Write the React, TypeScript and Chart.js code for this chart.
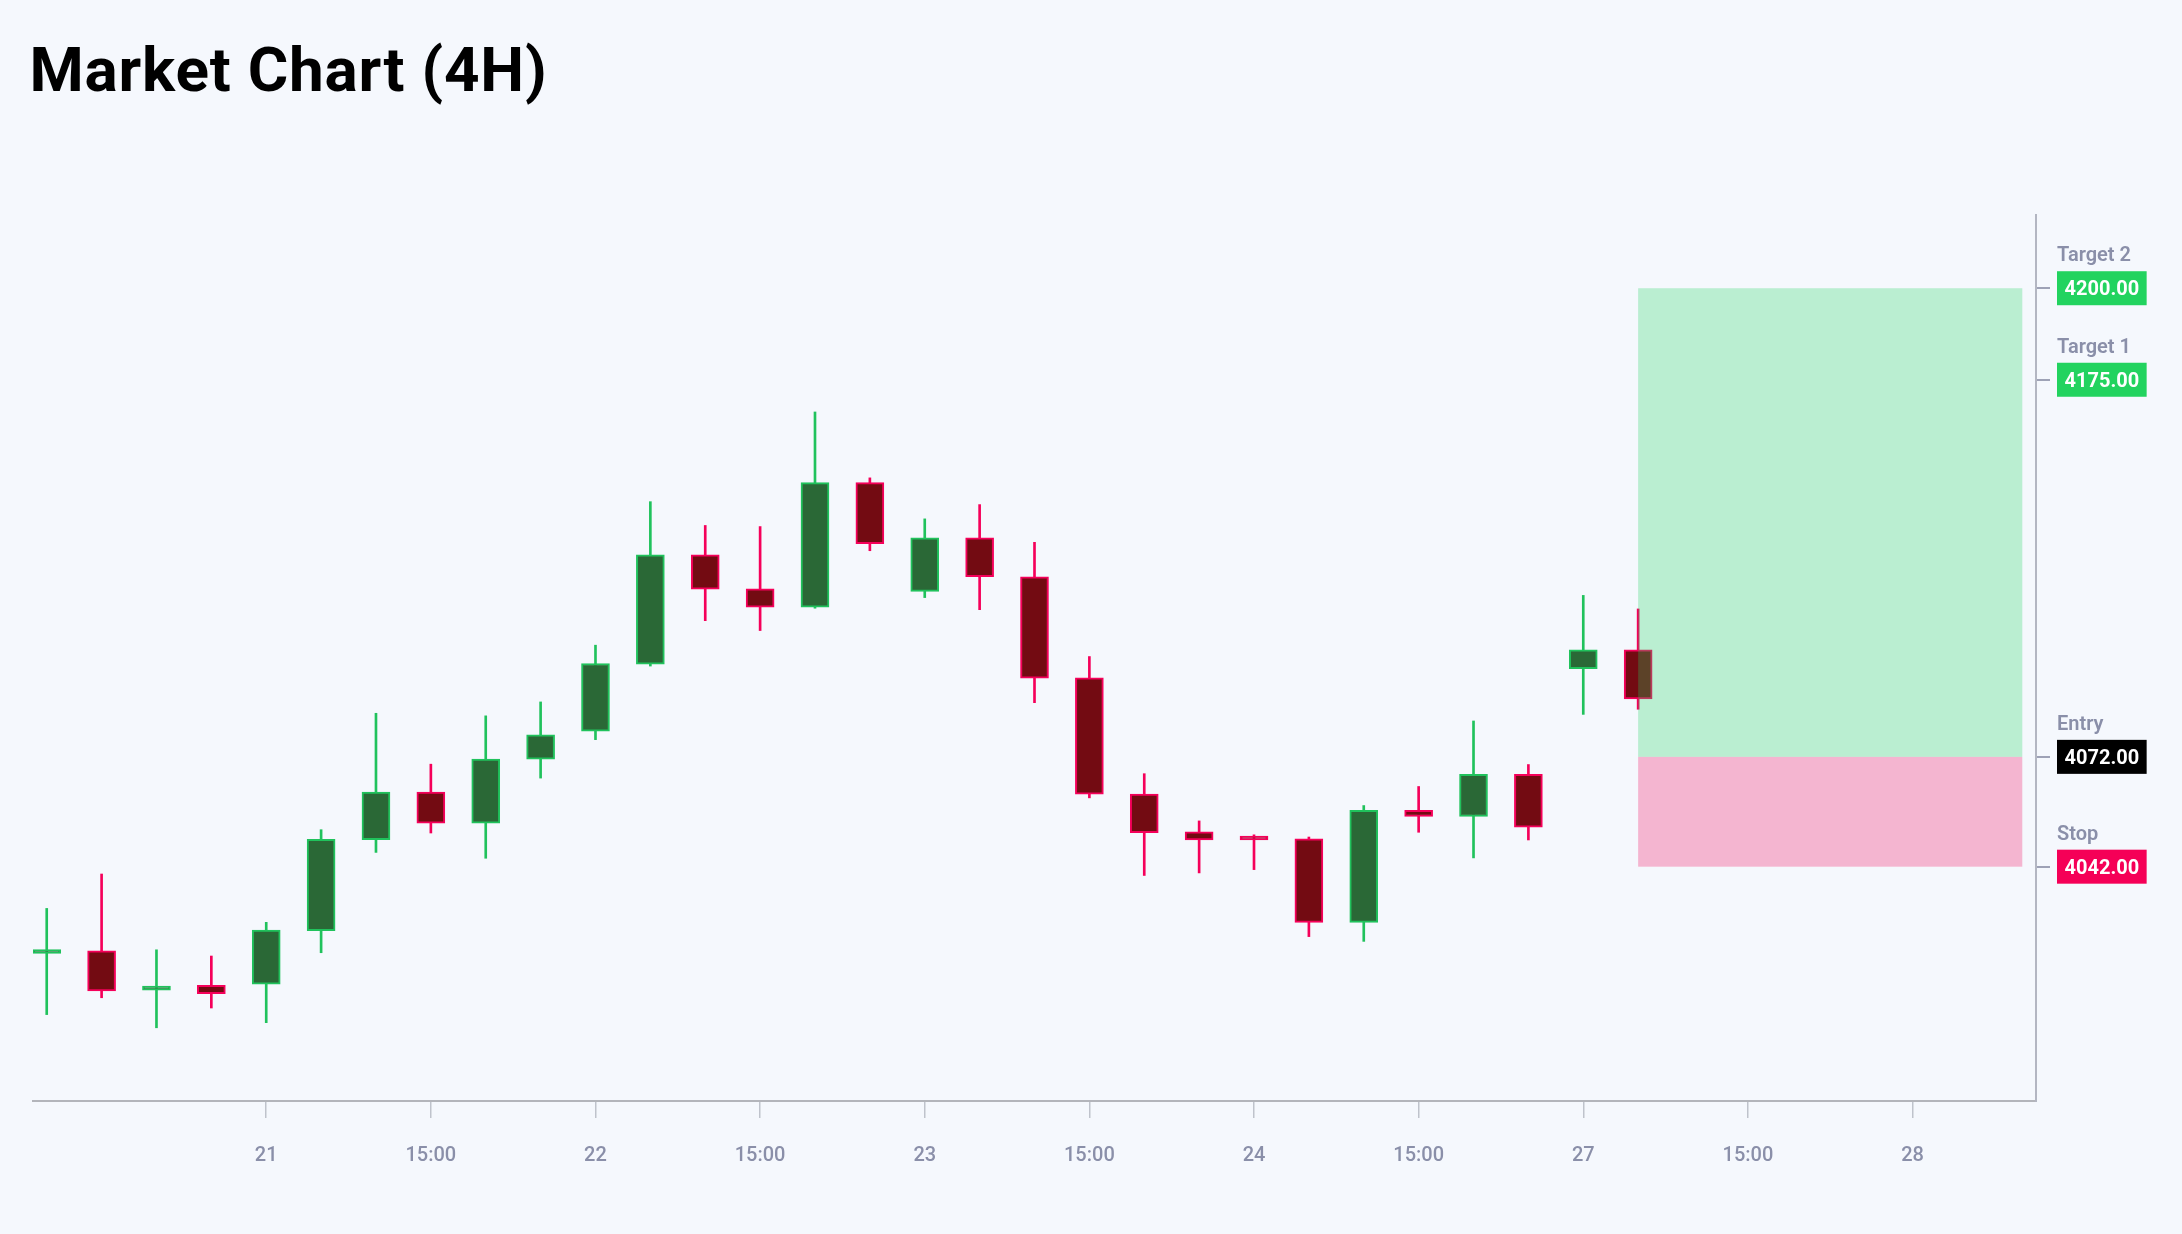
import React, { useEffect, useRef } from 'react';
import { Chart, registerables } from 'chart.js';

Chart.register(...registerables);

const TITLE = 'Market Chart (4H)';

const OPEN = [4018.3, 4019.0, 4008.3, 4009.6, 4009.9, 4024.5, 4049.4, 4062.4, 4053.9, 4071.4,
  4079.0, 4097.3, 4127.2, 4117.9, 4112.9, 4146.9, 4117.2, 4131.8, 4121.2, 4093.6,
  4061.8, 4051.5, 4050.1, 4049.6, 4026.8, 4057.4, 4055.7, 4067.2, 4096.1, 4101.2];
const HIGH = [4030.6, 4040.0, 4019.3, 4017.6, 4026.8, 4052.1, 4083.9, 4070.0, 4083.2, 4087.0,
  4102.5, 4141.7, 4135.2, 4134.9, 4166.2, 4148.2, 4137.0, 4140.9, 4130.6, 4099.4,
  4067.4, 4054.5, 4050.7, 4050.1, 4058.7, 4063.9, 4081.8, 4069.9, 4116.1, 4112.4];
const LOW = [4001.6, 4006.2, 3998.0, 4003.4, 3999.4, 4018.5, 4045.9, 4051.2, 4044.3, 4066.2,
  4076.7, 4096.8, 4109.2, 4106.5, 4112.6, 4128.3, 4115.5, 4112.2, 4086.8, 4060.8,
  4039.6, 4040.3, 4041.2, 4022.9, 4021.6, 4051.4, 4044.4, 4049.3, 4083.6, 4085.0];
const CLOSE = [4019.2, 4008.1, 4009.4, 4007.3, 4024.7, 4049.5, 4062.4, 4053.9, 4071.4, 4078.0,
  4097.5, 4127.2, 4117.8, 4112.9, 4146.9, 4130.2, 4131.8, 4121.2, 4093.5, 4061.8,
  4051.3, 4049.3, 4049.3, 4026.8, 4057.4, 4055.7, 4067.2, 4052.8, 4101.2, 4087.8];

const TICK_POSITIONS = [4, 7, 10, 13, 16, 19, 22, 25, 28, 31, 34];
const TICK_LABELS = ['21', '15:00', '22', '15:00', '23', '15:00', '24', '15:00', '27', '15:00', '28'];

const LEVEL_NAMES = ['Target 2', 'Target 1', 'Entry', 'Stop'];
const LEVEL_VALUES = [4200, 4175, 4072, 4042];
const LEVEL_COLORS = ['#22d35f', '#22d35f', '#000000', '#f50057'];

const ZONE_START = 29;
const ZONE_END = 36;
const TARGET_ZONE = [4072, 4200];
const STOP_ZONE = [4042, 4072];

const X_MIN = -0.25;
const X_MAX = 36.25;
const Y_MIN = 3978;
const Y_MAX = 4220;

const UP_FILL = '#2a6836';
const UP_LINE = '#20c25c';
const DOWN_FILL = '#730b12';
const DOWN_LINE = '#f5005a';
const BG = '#f5f8fd';

const isUp = (i: number) => CLOSE[i] >= OPEN[i];

const overlayPlugin = {
  id: 'overlay',
  afterDatasetsDraw(chart: any) {
    const { ctx, chartArea, scales } = chart;
    const x = scales.x;
    const y = scales.y;
    ctx.save();
    ctx.beginPath();
    ctx.rect(chartArea.left, chartArea.top, chartArea.right - chartArea.left, chartArea.bottom - chartArea.top);
    ctx.clip();
    const x0 = x.getPixelForValue(ZONE_START);
    const x1 = x.getPixelForValue(ZONE_END);
    const tTop = y.getPixelForValue(TARGET_ZONE[1]);
    const tBot = y.getPixelForValue(TARGET_ZONE[0]);
    ctx.fillStyle = 'rgba(34, 211, 96, 0.28)';
    ctx.fillRect(x0, tTop, x1 - x0, tBot - tTop);
    const sTop = y.getPixelForValue(STOP_ZONE[1]);
    const sBot = y.getPixelForValue(STOP_ZONE[0]);
    ctx.fillStyle = 'rgba(245, 0, 87, 0.27)';
    ctx.fillRect(x0, sTop, x1 - x0, sBot - sTop);
    ctx.restore();
  },
  afterDraw(chart: any) {
    const { ctx, scales } = chart;
    const y = scales.y;
    ctx.save();
    // title
    ctx.fillStyle = '#000000';
    ctx.font = 'bold 62px Roboto';
    ctx.textBaseline = 'alphabetic';
    ctx.textAlign = 'left';
    try { (ctx as any).letterSpacing = '0.8px'; } catch (e) { /* ignore */ }
    ctx.fillText(TITLE, 29.5, 91);
    try { (ctx as any).letterSpacing = '0px'; } catch (e) { /* ignore */ }
    // level labels
    const bx = y.left + 21;
    LEVEL_VALUES.forEach((v, i) => {
      const py = y.getPixelForValue(v);
      ctx.font = '600 20px Roboto';
      ctx.fillStyle = '#8a8fa9';
      ctx.textBaseline = 'alphabetic';
      ctx.fillText(LEVEL_NAMES[i], bx, py - 27);
      const txt = v.toFixed(2);
      ctx.font = 'bold 20px Roboto';
      const w = ctx.measureText(txt).width;
      ctx.fillStyle = LEVEL_COLORS[i];
      ctx.fillRect(bx, py - 17, w + 15, 34);
      ctx.fillStyle = '#ffffff';
      ctx.textBaseline = 'middle';
      ctx.fillText(txt, bx + 7.5, py + 2);
    });
    ctx.restore();
  },
};

export default function App() {
  const ref = useRef<HTMLCanvasElement | null>(null);

  useEffect(() => {
    if (!ref.current) return;
    Chart.defaults.font.family = 'Roboto';
    const chart = new Chart(ref.current, {
      type: 'bar',
      data: {
        datasets: [
          {
            label: 'body',
            data: OPEN.map((o, i) => ({ x: i, y: [o, CLOSE[i]] })) as any,
            backgroundColor: OPEN.map((_, i) => (isUp(i) ? UP_FILL : DOWN_FILL)),
            borderColor: OPEN.map((_, i) => (isUp(i) ? UP_LINE : DOWN_LINE)),
            borderWidth: 2,
            borderSkipped: false,
            barThickness: 28,
            minBarLength: 4,
            grouped: false,
            order: 0,
          } as any,
          {
            label: 'wick',
            data: LOW.map((l, i) => ({ x: i, y: [l, HIGH[i]] })) as any,
            backgroundColor: OPEN.map((_, i) => (isUp(i) ? UP_LINE : DOWN_LINE)),
            borderWidth: 0,
            barThickness: 2,
            grouped: false,
            order: 1,
          } as any,
        ],
      },
      options: {
        animation: false,
        responsive: true,
        maintainAspectRatio: false,
        layout: { padding: { left: 33, top: 215, right: 0, bottom: 0 } },
        plugins: {
          legend: { display: false },
          tooltip: { enabled: false },
          title: { display: false },
        },
        scales: {
          x: {
            type: 'linear',
            position: 'bottom',
            min: X_MIN,
            max: X_MAX,
            offset: false,
            grid: {
              drawOnChartArea: false,
              drawTicks: true,
              tickLength: 17,
              color: '#bfc3cc',
              lineWidth: 1.5,
              offset: false,
            },
            border: { display: true, color: '#b3b5bb', width: 2 },
            ticks: {
              autoSkip: false,
              maxRotation: 0,
              padding: 26,
              color: '#8a8fa9',
              font: { family: 'Roboto', size: 20, weight: '500' },
              callback: (v: any) => {
                const k = TICK_POSITIONS.indexOf(Number(v));
                return k >= 0 ? TICK_LABELS[k] : '';
              },
            },
            afterBuildTicks: (s: any) => {
              s.ticks = TICK_POSITIONS.map((v) => ({ value: v }));
            },
            afterFit: (s: any) => {
              s.height = 133;
            },
          } as any,
          y: {
            type: 'linear',
            position: 'right',
            min: Y_MIN,
            max: Y_MAX,
            grid: {
              drawOnChartArea: false,
              drawTicks: true,
              tickLength: 14,
              color: '#9ea2b6',
              lineWidth: 2,
            },
            border: { display: true, color: '#b3b6c2', width: 2 },
            ticks: { display: false },
            afterBuildTicks: (s: any) => {
              s.ticks = LEVEL_VALUES.map((v) => ({ value: v }));
            },
            afterFit: (s: any) => {
              s.width = 146;
            },
          } as any,
        },
      },
      plugins: [overlayPlugin],
    });
    return () => chart.destroy();
  }, []);

  return (
    <div style={{ position: 'fixed', left: 0, top: 0, width: 2182, height: 1234, background: BG }}>
      <canvas ref={ref} />
    </div>
  );
}
